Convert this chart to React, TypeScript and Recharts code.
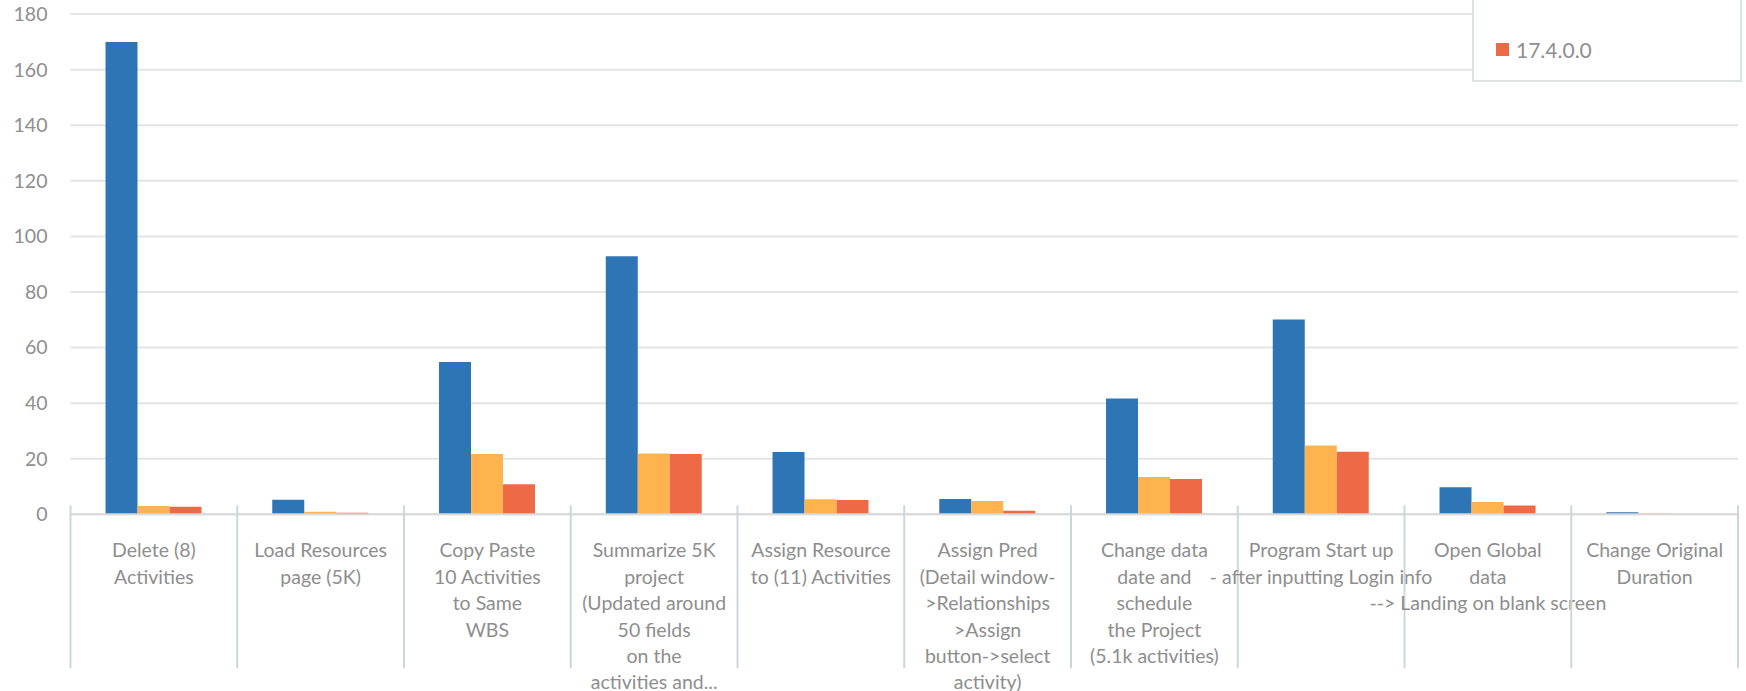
import React from 'react';
import { BarChart, Bar, XAxis, YAxis, CartesianGrid } from 'recharts';

// ---- data ----
const categories = [
  'Delete (8) Activities',
  'Load Resources page (5K)',
  'Copy Paste 10 Activities to Same WBS',
  'Summarize 5K project',
  'Assign Resource to (11) Activities',
  'Assign Pred',
  'Change data date and schedule the Project',
  'Program Start up',
  'Open Global data',
  'Change Original Duration',
];

const categoryLabelLines: string[][] = [
  ['Delete (8)', 'Activities'],
  ['Load Resources', 'page (5K)'],
  ['Copy Paste', '10 Activities', 'to Same', 'WBS'],
  ['Summarize 5K', 'project', '(Updated around', '50 fields', 'on the', 'activities and...'],
  ['Assign Resource', 'to (11) Activities'],
  ['Assign Pred', '(Detail window-', '>Relationships', '>Assign', 'button->select', 'activity)'],
  ['Change data', 'date and', 'schedule', 'the Project', '(5.1k activities)'],
  ['Program Start up', '- after inputting Login info'],
  ['Open Global', 'data', '--> Landing on blank screen'],
  ['Change Original', 'Duration'],
];

const seriesNames = ['Series 1', 'Series 2', '17.4.0.0'];
const seriesBlue = [170, 5.2, 54.8, 92.9, 22.4, 5.5, 41.7, 70.1, 9.7, 0.7];
const seriesOrange = [3.0, 0.95, 21.7, 21.9, 5.4, 4.8, 13.4, 24.8, 4.4, 0.35];
const seriesRed = [2.7, 0.6, 10.8, 21.7, 5.15, 1.3, 12.7, 22.5, 3.2, 0.15];
const yTicks = [0, 20, 40, 60, 80, 100, 120, 140, 160, 180];

const colors = ['#2E75B6', '#FFB34F', '#EE6A47'];

const data = categories.map((c, i) => ({
  category: c,
  idx: i,
  s0: seriesBlue[i],
  s1: seriesOrange[i],
  s2: seriesRed[i],
}));

const W = 1746;
const H = 691;
const FONT = 'Lato, "Open Sans", sans-serif';
const TEXT = '#8E8E8E';

const CategoryTick = (props: any) => {
  const { x, y, payload, index, visibleTicksCount, width } = props;
  const count = visibleTicksCount || categories.length;
  const bw = width && count ? width / count : 166.8;
  const i = typeof payload?.index === 'number' ? payload.index : index;
  const lines = categoryLabelLines[i] || [String(payload?.value ?? '')];
  return (
    <g>
      <line x1={x - bw / 2} x2={x - bw / 2} y1={y - 9} y2={y + 154} stroke="#CDD6D8" strokeWidth={2} />
      {i === count - 1 && (
        <line x1={x + bw / 2} x2={x + bw / 2} y1={y - 9} y2={y + 154} stroke="#CDD6D8" strokeWidth={2} />
      )}
      <text textAnchor="middle" fill={TEXT} fontSize={19.5} fontFamily={FONT}>
        {lines.map((l, k) => (
          <tspan key={k} x={x} y={y + 35.5 + k * 26.4} dominantBaseline="central">
            {l}
          </tspan>
        ))}
      </text>
    </g>
  );
};

export default function App() {
  return (
    <div
      style={{
        position: 'absolute',
        left: 0,
        top: 0,
        width: W,
        height: H,
        overflow: 'hidden',
        background: '#fff',
        fontFamily: FONT,
      }}
    >
      <BarChart
        width={W}
        height={H}
        data={data}
        margin={{ top: 14.1, right: 8, left: 0, bottom: 0 }}
        barCategoryGap="21%"
        barGap={0}
      >
        <CartesianGrid vertical={false} stroke="#E4E4E4" strokeWidth={2} />
        <YAxis
          width={70.5}
          domain={[0, 180]}
          ticks={yTicks}
          interval={0}
          axisLine={false}
          tickLine={false}
          tickSize={0}
          tickMargin={23}
          tick={{ fill: TEXT, fontSize: 19.5, fontFamily: FONT }}
        />
        <XAxis
          dataKey="category"
          height={176.7}
          interval={0}
          tickSize={0}
          tickMargin={0}
          tickLine={false}
          axisLine={{ stroke: '#D9D9D9', strokeWidth: 2 }}
          tick={<CategoryTick />}
        />
        <Bar dataKey="s0" name={seriesNames[0]} fill={colors[0]} legendType="none" isAnimationActive={false} />
        <Bar dataKey="s1" name={seriesNames[1]} fill={colors[1]} legendType="none" isAnimationActive={false} />
        <Bar dataKey="s2" name={seriesNames[2]} fill={colors[2]} isAnimationActive={false} />
      </BarChart>
      {/* legend box (its upper part lies above the visible page) */}
      <div
        style={{
          position: 'absolute',
          left: 1472,
          top: -60,
          width: 270,
          height: 141.7,
          border: '2px solid #DCE2E3',
          boxSizing: 'border-box',
          background: '#fff',
        }}
      >
        <div
          style={{
            position: 'absolute',
            left: 22,
            top: 95,
            height: 24,
            display: 'flex',
            alignItems: 'center',
            fontSize: 21,
            color: TEXT,
            fontFamily: FONT,
            whiteSpace: 'nowrap',
          }}
        >
          <span style={{ display: 'inline-block', width: 13, height: 13, background: colors[2], marginRight: 7 }} />
          {seriesNames[2]}
        </div>
      </div>
    </div>
  );
}
